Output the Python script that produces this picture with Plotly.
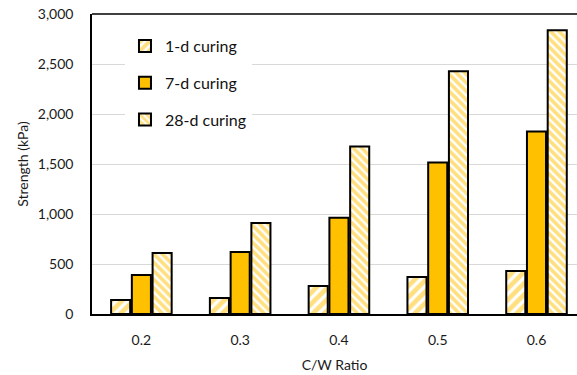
import plotly.graph_objects as go

categories = ["0.2", "0.3", "0.4", "0.5", "0.6"]
d1 = [140, 160, 280, 370, 430]
d7 = [390, 620, 963, 1515, 1825]
d28 = [610, 910, 1675, 2427, 2838]
y_ticks = [0, 500, 1000, 1500, 2000, 2500, 3000]
y_labels = ["0", "500", "1,000", "1,500", "2,000", "2,500", "3,000"]

gold = "#FFC000"
fig = go.Figure()
fig.add_trace(go.Bar(x=categories, y=d1, name="1-d curing", legendgroup="a",
                     marker=dict(color="white", line=dict(color="black", width=2),
                                 pattern=dict(shape="/", fgcolor=gold, bgcolor="white",
                                              size=8, solidity=0.6))))
fig.add_trace(go.Bar(x=categories, y=d7, name="7-d curing", legendgroup="b",
                     marker=dict(color=gold, line=dict(color="black", width=2))))
fig.add_trace(go.Bar(x=categories, y=d28, name="28-d curing", legendgroup="c",
                     marker=dict(color="white", line=dict(color="black", width=2),
                                 pattern=dict(shape="\\", fgcolor=gold, bgcolor="white",
                                              size=6, solidity=0.6))))

font = "Lato, Open Sans, sans-serif"
fig.update_layout(
    width=577, height=375,
    margin=dict(l=92, r=0, t=14, b=61),
    paper_bgcolor="white", plot_bgcolor="white",
    barmode="group", bargap=0.37, bargroupgap=0.08,
    font=dict(family=font, size=14, color="#1a1a1a"),
    legend=dict(x=0.068, y=0.95, xanchor="left", yanchor="top",
                bgcolor="white", font=dict(size=16, color="#111"),
                tracegroupgap=13, itemsizing="constant"),
    showlegend=True,
)
fig.update_xaxes(
    type="category", range=[-0.5, 4.41],
    showline=True, linecolor="black", linewidth=1.5, mirror=False,
    ticks="", ticklabelstandoff=12,
    title=dict(text="C/W Ratio", font=dict(size=14), standoff=14),
    showgrid=False,
)
fig.update_yaxes(
    range=[0, 3000], tickvals=y_ticks, ticktext=y_labels,
    showline=True, linecolor="black", linewidth=1.5,
    gridcolor="#D9D9D9", gridwidth=1.2, ticks="", ticklabelstandoff=14,
    title=dict(text="Strength (kPa)", font=dict(size=14), standoff=6),
    zeroline=False,
)
fig.add_shape(type="line", xref="paper", yref="paper", x0=0, x1=1, y0=1, y1=1,
              line=dict(color="black", width=1.5))
fig.write_html("out.html")
